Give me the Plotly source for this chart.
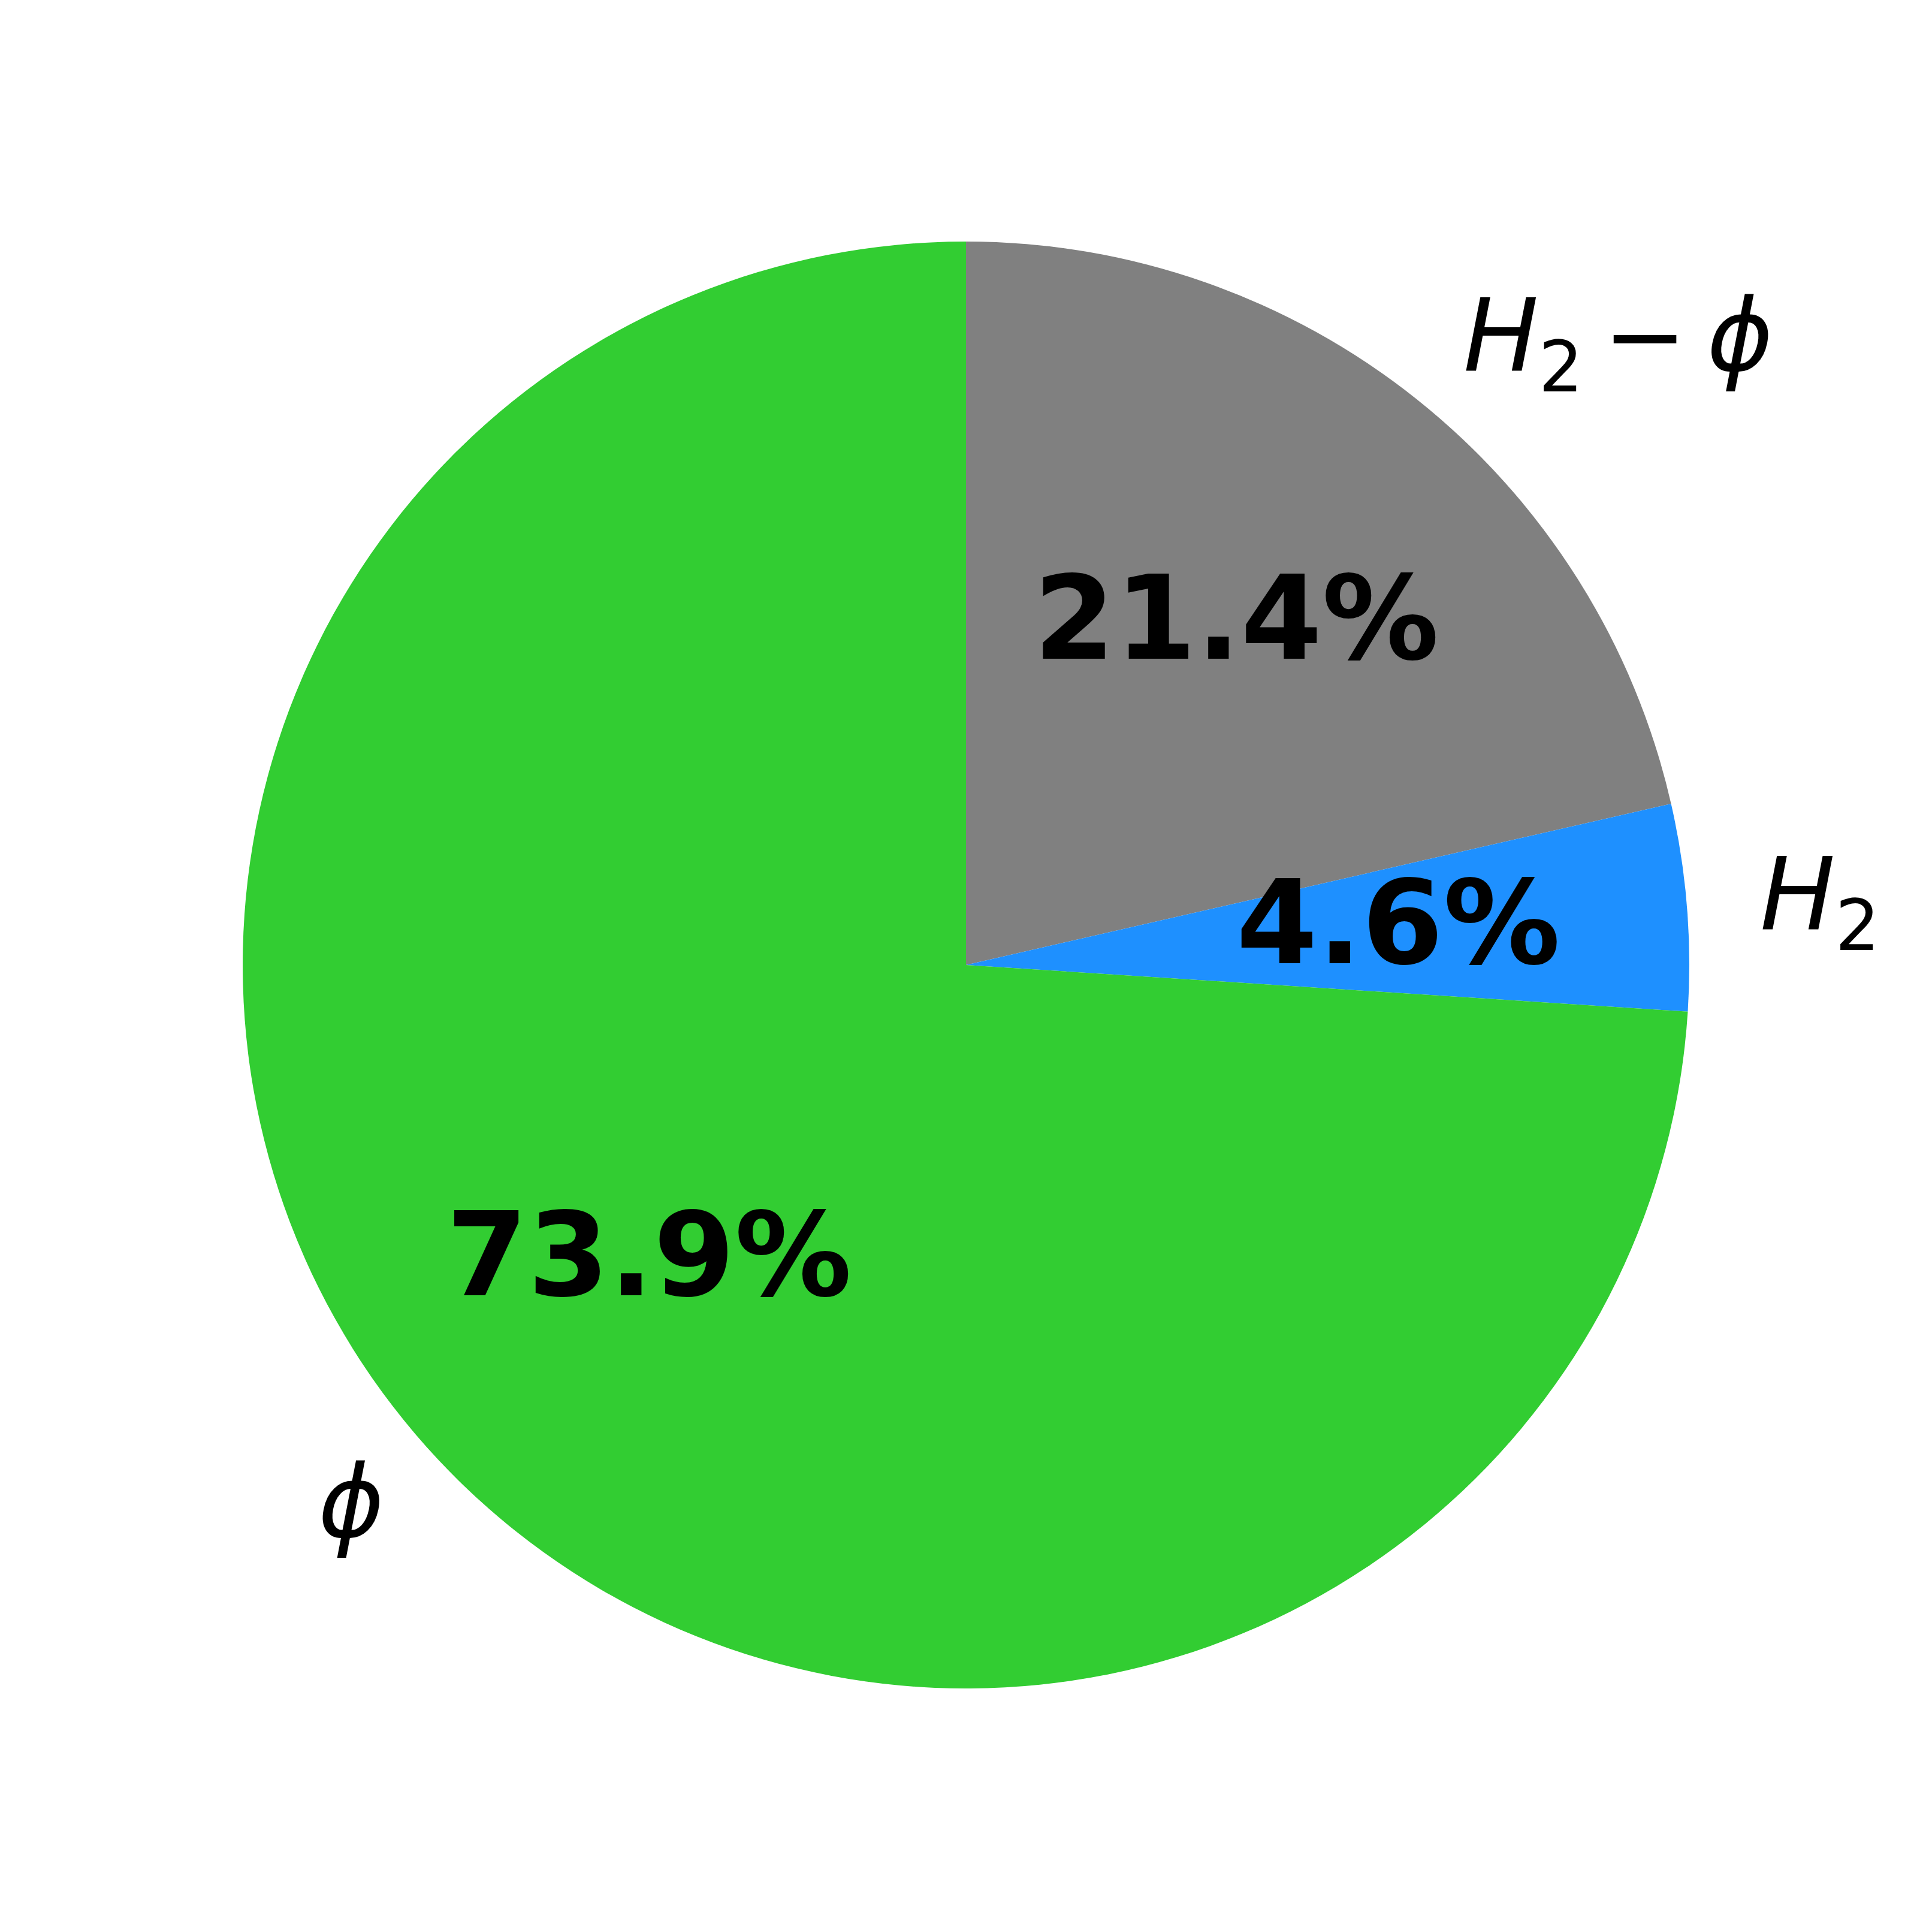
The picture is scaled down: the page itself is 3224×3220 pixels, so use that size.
import numpy as np
import plotly.graph_objects as go

# slice data (clockwise from 12 o'clock)
labels = ["<i>H</i><sub>2</sub>\u2009−\u2009<i>ϕ</i>", "<i>H</i><sub>2</sub>", "<i>ϕ</i>"]
values = [21.4, 4.6, 73.9]
colors = ["#808080", "#1E90FF", "#32CD32"]

W, H = 3224, 3220
R = 1207          # pie radius in px
cx = 0.5 - 8 / W  # compensate the page's 8px body margin
cy = 0.5 + 8 / H

fig = go.Figure(go.Pie(
    labels=labels,
    values=values,
    marker=dict(colors=colors, line=dict(width=0)),
    sort=False,
    direction="clockwise",
    rotation=0,
    textinfo="none",
    hoverinfo="label+percent",
    showlegend=False,
    domain=dict(x=[cx - R / W, cx + R / W], y=[cy - R / H, cy + R / H]),
))

# label / percentage positions, matplotlib style (1.1 r and 0.6 r)
total = sum(values)
start = 90.0
annotations = []
for lab, v in zip(labels, values):
    span = 360.0 * v / total
    mid = np.deg2rad(start - span / 2)
    start -= span
    c, s = np.cos(mid), np.sin(mid)
    annotations.append(dict(
        x=cx + 0.6 * R * c / W, y=cy + 0.6 * R * s / H,
        xref="paper", yref="paper", showarrow=False, yshift=12,
        text=f"<b>{v:.1f}%</b>", xanchor="center", yanchor="middle",
        font=dict(family="DejaVu Sans", size=195, color="black"),
    ))
    annotations.append(dict(
        x=cx + 1.1 * R * c / W, y=cy + 1.1 * R * s / H,
        xref="paper", yref="paper", showarrow=False,
        yshift=0 if "sub" in lab else 12,
        text=lab, xanchor="left" if c > 0 else "right", yanchor="middle",
        font=dict(family="DejaVu Sans", size=167, color="black"),
    ))

fig.update_layout(
    width=W, height=H,
    margin=dict(l=0, r=0, t=0, b=0),
    paper_bgcolor="white",
    annotations=annotations,
)

fig.write_html("out.html")
